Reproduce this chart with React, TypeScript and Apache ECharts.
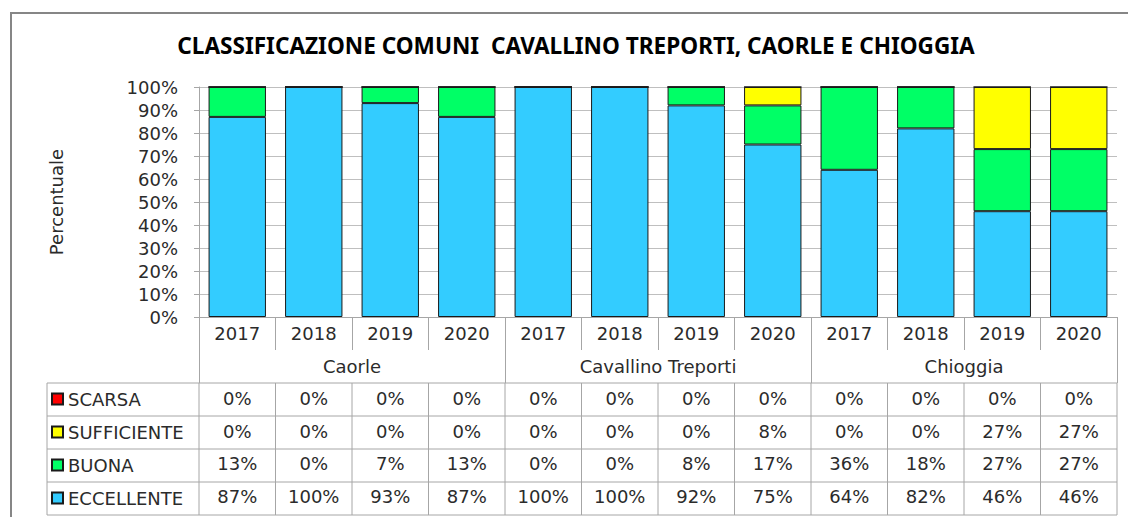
import React, { useEffect, useRef } from "react";
import * as echarts from "echarts";

const years = ["2017", "2018", "2019", "2020", "2017", "2018", "2019", "2020", "2017", "2018", "2019", "2020"];
const comuni = ["Caorle", "Cavallino Treporti", "Chioggia"];
const classi = ["SCARSA", "SUFFICIENTE", "BUONA", "ECCELLENTE"];
const scarsa = [0, 0, 0, 0, 0, 0, 0, 0, 0, 0, 0, 0];
const sufficiente = [0, 0, 0, 0, 0, 0, 0, 8, 0, 0, 27, 27];
const buona = [13, 0, 7, 13, 0, 0, 8, 17, 36, 18, 27, 27];
const eccellente = [87, 100, 93, 87, 100, 100, 92, 75, 64, 82, 46, 46];
const titolo = "CLASSIFICAZIONE COMUNI  CAVALLINO TREPORTI, CAORLE E CHIOGGIA";

const FONT = "'DejaVu Sans', sans-serif";
const TFONT = "'Noto Sans', sans-serif";
const FS = 18;
const TXT = "#2b2b2b";
const LINE = "#A6A6A6";
const W = 1128;
const H = 517;
const GL = 199;
const GR = 1117;
const GT = 87;
const GB = 317;
const ROW = 33;
const TABLE_LEFT = 47;

const colors: Record<string, string> = {
  SCARSA: "#FF0000",
  SUFFICIENTE: "#FFFF00",
  BUONA: "#00FF66",
  ECCELLENTE: "#33CCFF",
};

export default function App() {
  const ref = useRef<HTMLDivElement>(null);
  useEffect(() => {
    if (!ref.current) return;
    const chart = echarts.init(ref.current, undefined, { renderer: "svg" });
    const pct = (v: number) => `${v}%`;
    const mk = (name: string, data: number[]) => ({
      name,
      type: "bar",
      stack: "tot",
      data,
      barCategoryGap: "25%",
      xAxisIndex: 0,
      itemStyle: { color: colors[name], borderColor: "#1a1a1a", borderWidth: 1 },
      emphasis: { disabled: true },
    });

    const tableTop = GB + 2 * ROW;
    const graphics: any[] = [
      {
        type: "rect",
        shape: { x: 11, y: 13, width: 1300, height: 700 },
        style: { fill: "none", stroke: "#868686", lineWidth: 2 },
        silent: true,
      },
    ];
    for (let r = 0; r <= classi.length; r++) {
      const y = tableTop + r * ROW;
      graphics.push({
        type: "line",
        shape: { x1: TABLE_LEFT, y1: y, x2: GR, y2: y },
        style: { stroke: LINE, lineWidth: 1 },
        silent: true,
      });
    }
    const colW = (GR - GL) / years.length;
    const xs = [TABLE_LEFT];
    for (let k = 0; k <= years.length; k++) xs.push(GL + k * colW);
    xs.forEach((x) =>
      graphics.push({
        type: "line",
        shape: { x1: x, y1: tableTop, x2: x, y2: tableTop + classi.length * ROW },
        style: { stroke: LINE, lineWidth: 1 },
        silent: true,
      })
    );

    chart.setOption({
      animation: false,
      title: {
        text: titolo,
        left: 576,
        top: 34,
        padding: 0,
        textAlign: "center",
        textStyle: { fontFamily: TFONT, fontSize: 22.6, fontWeight: "bold", color: "#000" },
      },
      legend: {
        data: classi,
        orient: "vertical",
        left: 51,
        top: tableTop + 7,
        padding: 0,
        itemWidth: 11,
        itemHeight: 11,
        itemGap: 15,
        itemTextGap: 3,
        icon: "rect",
        selectedMode: false,
        textStyle: { fontFamily: FONT, fontSize: FS, lineHeight: 18, color: TXT },
      },
      grid: { left: GL, right: W - GR, top: GT, height: GB - GT, containLabel: false },
      xAxis: [
        {
          type: "category",
          data: years,
          position: "bottom",
          axisLine: { show: true, lineStyle: { color: LINE } },
          axisTick: { show: true, length: ROW, interval: 0, lineStyle: { color: LINE } },
          axisLabel: {
            interval: 0,
            margin: 0,
            lineHeight: 32.6,
            fontFamily: FONT,
            fontSize: FS,
            color: TXT,
            formatter: (v: string, i: number) =>
              `${v}\n\n${pct(scarsa[i])}\n${pct(sufficiente[i])}\n${pct(buona[i])}\n${pct(eccellente[i])}`,
          },
          splitLine: { show: false },
        },
        {
          type: "category",
          data: comuni,
          position: "bottom",
          offset: ROW,
          axisLine: { show: false },
          axisTick: { show: true, length: ROW, interval: 0, lineStyle: { color: LINE } },
          axisLabel: { interval: 0, margin: 0, lineHeight: ROW, fontFamily: FONT, fontSize: FS, color: TXT },
          splitLine: { show: false },
        },
      ],
      yAxis: {
        type: "value",
        min: 0,
        max: 100,
        interval: 10,
        name: "Percentuale",
        nameLocation: "middle",
        nameRotate: 90,
        nameGap: 134,
        nameTextStyle: { fontFamily: FONT, fontSize: FS, color: TXT },
        axisLine: { show: true, lineStyle: { color: LINE } },
        axisTick: { show: true, inside: false, length: 5, lineStyle: { color: LINE } },
        axisLabel: { formatter: "{value}%", margin: 21, fontFamily: FONT, fontSize: FS, color: TXT },
        splitLine: { show: true, lineStyle: { color: "#BFBFBF" } },
      },
      series: [
        mk("ECCELLENTE", eccellente),
        mk("BUONA", buona),
        mk("SUFFICIENTE", sufficiente),
        mk("SCARSA", scarsa),
      ],
      graphic: graphics,
    });
    return () => chart.dispose();
  }, []);
  return (
    <div
      ref={ref}
      style={{ position: "fixed", left: 0, top: 0, width: W, height: H, background: "#fff" }}
    />
  );
}
